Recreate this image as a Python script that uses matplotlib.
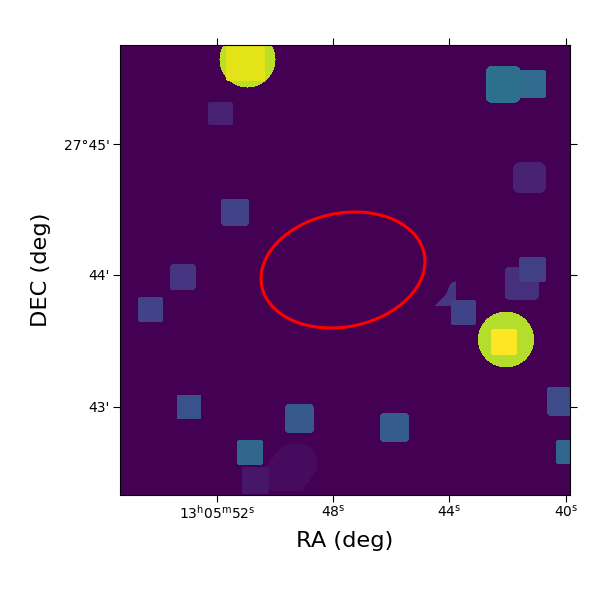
import numpy as np
import matplotlib
matplotlib.use("Agg")
import matplotlib.pyplot as plt
from matplotlib.patches import Ellipse
from matplotlib.path import Path

# image coordinates (figure-pixel-like grid) and intensities on 0..1
box_x0 = [208.3, 221, 170, 138, 176.7, 285, 237, 242, 518, 485.7, 513.3, 519.3, 504.7, 451, 547, 556, 380]
box_x1 = [233, 249, 195.7, 163, 201.3, 313.7, 263, 268.7, 545.7, 520.7, 545.7, 545.7, 539, 475.7, 574, 574, 409]
box_y0 = [102, 199, 264.3, 297.3, 395, 404, 440.3, 467, 70, 66, 162.3, 256.7, 266.7, 300.3, 387, 440.3, 412.7]
box_y1 = [125.3, 225.7, 290, 321.7, 419.3, 433.3, 464.7, 494, 98.3, 102.7, 193, 282, 300, 324.7, 415.7, 464, 442.3]
box_val = [0.09, 0.20, 0.15, 0.20, 0.25, 0.28, 0.33, 0.06, 0.35, 0.37, 0.09, 0.19, 0.14, 0.20, 0.23, 0.33, 0.29]
box_rad = [2, 3, 3, 2, 2, 4, 2, 2, 2, 6, 6, 2, 5, 2, 3, 2, 4]

star_x = [247.5, 506]
star_y = [59.5, 339.5]
star_r = [28, 28]
star_val = [0.90, 0.89]

core_x0 = [226, 491]
core_x1 = [265.3, 517]
core_y0 = [40, 329]
core_y1 = [81, 355]
core_val = [0.96, 1.0]
core_rad = [3, 2]

blob_x = [283, 288, 303, 312, 316.7, 316.7, 302, 272, 268, 266, 266]
blob_y = [445, 444, 444, 448, 456, 470, 490.7, 490.7, 489, 484, 466]
blob_val = 0.03
wedge_x = [435, 446, 450.7, 455.7, 455.7]
wedge_y = [305.7, 294, 283.3, 281, 305.7]
wedge_val = 0.16

ell_center = (343, 270)
ell_width = 165.6
ell_height = 113.6
ell_angle = -11.25

xtick_pos = [217, 333, 449, 566]
xtick_lab = [r"$13^{\mathrm{h}}05^{\mathrm{m}}52^{\mathrm{s}}$", r"$48^{\mathrm{s}}$", r"$44^{\mathrm{s}}$", r"$40^{\mathrm{s}}$"]
ytick_pos = [144, 275, 406.7]
ytick_lab = ["27°45'", "44'", "43'"]

X0, X1, Y0, Y1 = 120, 570, 45, 495
xs = np.arange(X0, X1) + 0.5
ys = np.arange(Y0, Y1) + 0.5
gx, gy = np.meshgrid(xs, ys)
img = np.zeros_like(gx)


def rbox(x0, x1, y0, y1, rad=3.0):
    cx, cy = (x0 + x1) / 2, (y0 + y1) / 2
    hx, hy = (x1 - x0) / 2 - rad, (y1 - y0) / 2 - rad
    dx = np.maximum(np.abs(gx - cx) - hx, 0)
    dy = np.maximum(np.abs(gy - cy) - hy, 0)
    return dx * dx + dy * dy <= rad * rad


for a, b, c, d, v, r in zip(box_x0, box_x1, box_y0, box_y1, box_val, box_rad):
    m = rbox(a, b, c, d, r)
    img[m] = np.maximum(img[m], v)
pts = np.column_stack([gx.ravel(), gy.ravel()])
for px, py, v in [(blob_x, blob_y, blob_val), (wedge_x, wedge_y, wedge_val)]:
    m = Path(np.column_stack([px, py])).contains_points(pts).reshape(gx.shape)
    img[m] = np.maximum(img[m], v)
for x, y, r, v in zip(star_x, star_y, star_r, star_val):
    img[(gx - x) ** 2 + (gy - y) ** 2 <= r * r] = v
for a, b, c, d, v, r in zip(core_x0, core_x1, core_y0, core_y1, core_val, core_rad):
    img[rbox(a, b, c, d, r)] = v

fig = plt.figure(figsize=(6, 6), dpi=100)
ax = fig.add_axes([0.2, 0.175, 0.75, 0.75])
ax.imshow(img, cmap="viridis", vmin=0, vmax=1, extent=(X0, X1, Y1, Y0),
          interpolation="nearest", aspect="equal")
ax.add_patch(Ellipse(ell_center, ell_width, ell_height, angle=ell_angle,
                     fill=False, edgecolor="red", linewidth=2.2))
ax.set_xlim(X0, X1)
ax.set_ylim(Y1, Y0)
ax.set_xticks(xtick_pos, xtick_lab)
ax.set_yticks(ytick_pos, ytick_lab)
ax.tick_params(top=True, right=True, direction="out", length=5, labelsize=10)
ax.tick_params(axis="x", pad=1.5)
ax.tick_params(axis="y", pad=2.5)
ax.set_xlabel("RA (deg)", fontsize=16.2, labelpad=6.5)
ax.set_ylabel("DEC (deg)", fontsize=16.2, labelpad=9)
fig.savefig("out.png", dpi=100)
